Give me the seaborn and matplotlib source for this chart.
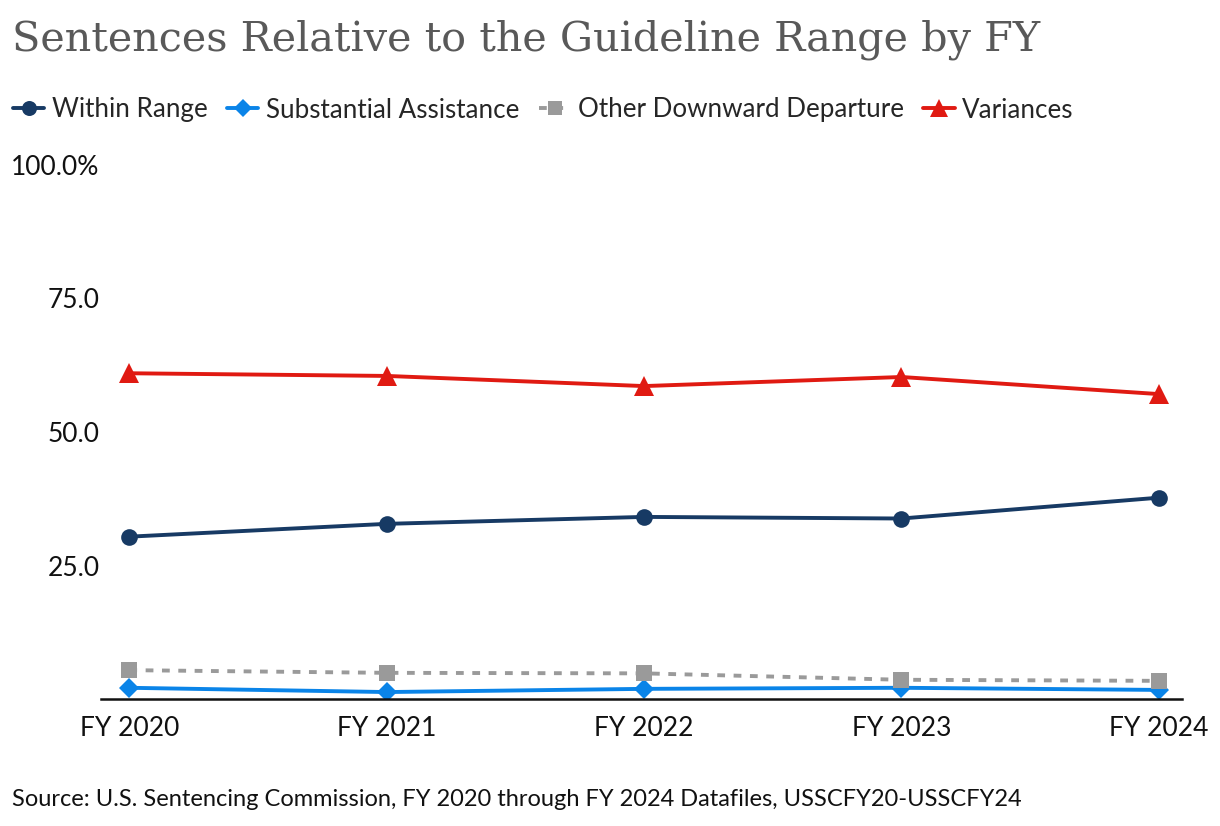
import pandas as pd
import seaborn as sns
import matplotlib.pyplot as plt

# Data
years = ["FY 2020", "FY 2021", "FY 2022", "FY 2023", "FY 2024"]
within_range = [30.4, 32.8, 34.1, 33.8, 37.7]
substantial = [2.1, 1.3, 1.9, 2.1, 1.7]
other_down = [5.4, 4.9, 4.8, 3.6, 3.4]
variances = [61.0, 60.5, 58.6, 60.3, 57.1]

sns.set_theme(style="white")
plt.rcParams["font.family"] = ["Lato", "DejaVu Sans"]

df = pd.DataFrame({
    "year": years * 4,
    "pct": within_range + substantial + other_down + variances,
    "series": (["Within Range"] * 5 + ["Substantial Assistance"] * 5
               + ["Other Downward Departure"] * 5 + ["Variances"] * 5),
})
df["x"] = df.groupby("series").cumcount()

styles = {
    "Within Range": dict(color="#173A64", marker="o", ms=12, ls="-"),
    "Substantial Assistance": dict(color="#0A84E8", marker="D", ms=10, ls="-"),
    "Other Downward Departure": dict(color="#9A9A9A", marker="s", ms=11, ls=(0, (2, 2.2))),
    "Variances": dict(color="#E01A12", marker="^", ms=14, ls="-"),
}

fig = plt.figure(figsize=(12.2, 8.26), dpi=100)
ax = fig.add_axes([101 / 1220, 1 - 699 / 826, (1182 - 101) / 1220, (699 - 165) / 826])

for name, st in styles.items():
    sub = df[df["series"] == name]
    sns.lineplot(data=sub, x="x", y="pct", ax=ax, color=st["color"], marker=st["marker"],
                 markersize=st["ms"], linestyle=st["ls"], linewidth=2.8,
                 markeredgewidth=0, label=name)

ax.set_xlim(-0.11, 4.09)
ax.set_ylim(0, 100)
ax.set_xticks(range(len(years)))
ax.set_xticklabels(years)
ax.set_yticks([25, 50, 75, 100])
ax.set_yticklabels(["25.0", "50.0", "75.0", "100.0%"])
ax.tick_params(axis="both", labelsize=19, colors="#111111", length=0)
ax.tick_params(axis="x", pad=12)
ax.tick_params(axis="y", pad=1)
ax.set_xlabel("")
ax.set_ylabel("")
for s in ["top", "right", "left"]:
    ax.spines[s].set_visible(False)
ax.spines["bottom"].set_color("#111111")
ax.spines["bottom"].set_linewidth(1.8)
ax.grid(False)
ax.legend_.remove()

handles, labels = ax.get_legend_handles_labels()
fig.legend(handles, labels, loc="center left", bbox_to_anchor=(0.0, 1 - 110 / 826),
           ncol=4, frameon=False, fontsize=18.7, handlelength=1.2, handletextpad=0.3,
           columnspacing=0.75, borderaxespad=0.2, borderpad=0.3, markerscale=0.9)

fig.text(12 / 1220, 1 - 40 / 826, "Sentences Relative to the Guideline Range by FY",
         fontsize=29.8, color="#595959", va="center", ha="left",
         family=["DejaVu Serif"])
fig.text(12 / 1220, 1 - 800 / 826,
         "Source: U.S. Sentencing Commission, FY 2020 through FY 2024 Datafiles, USSCFY20-USSCFY24",
         fontsize=17, color="#111111", va="center", ha="left")

fig.savefig("out.png", dpi=100)
